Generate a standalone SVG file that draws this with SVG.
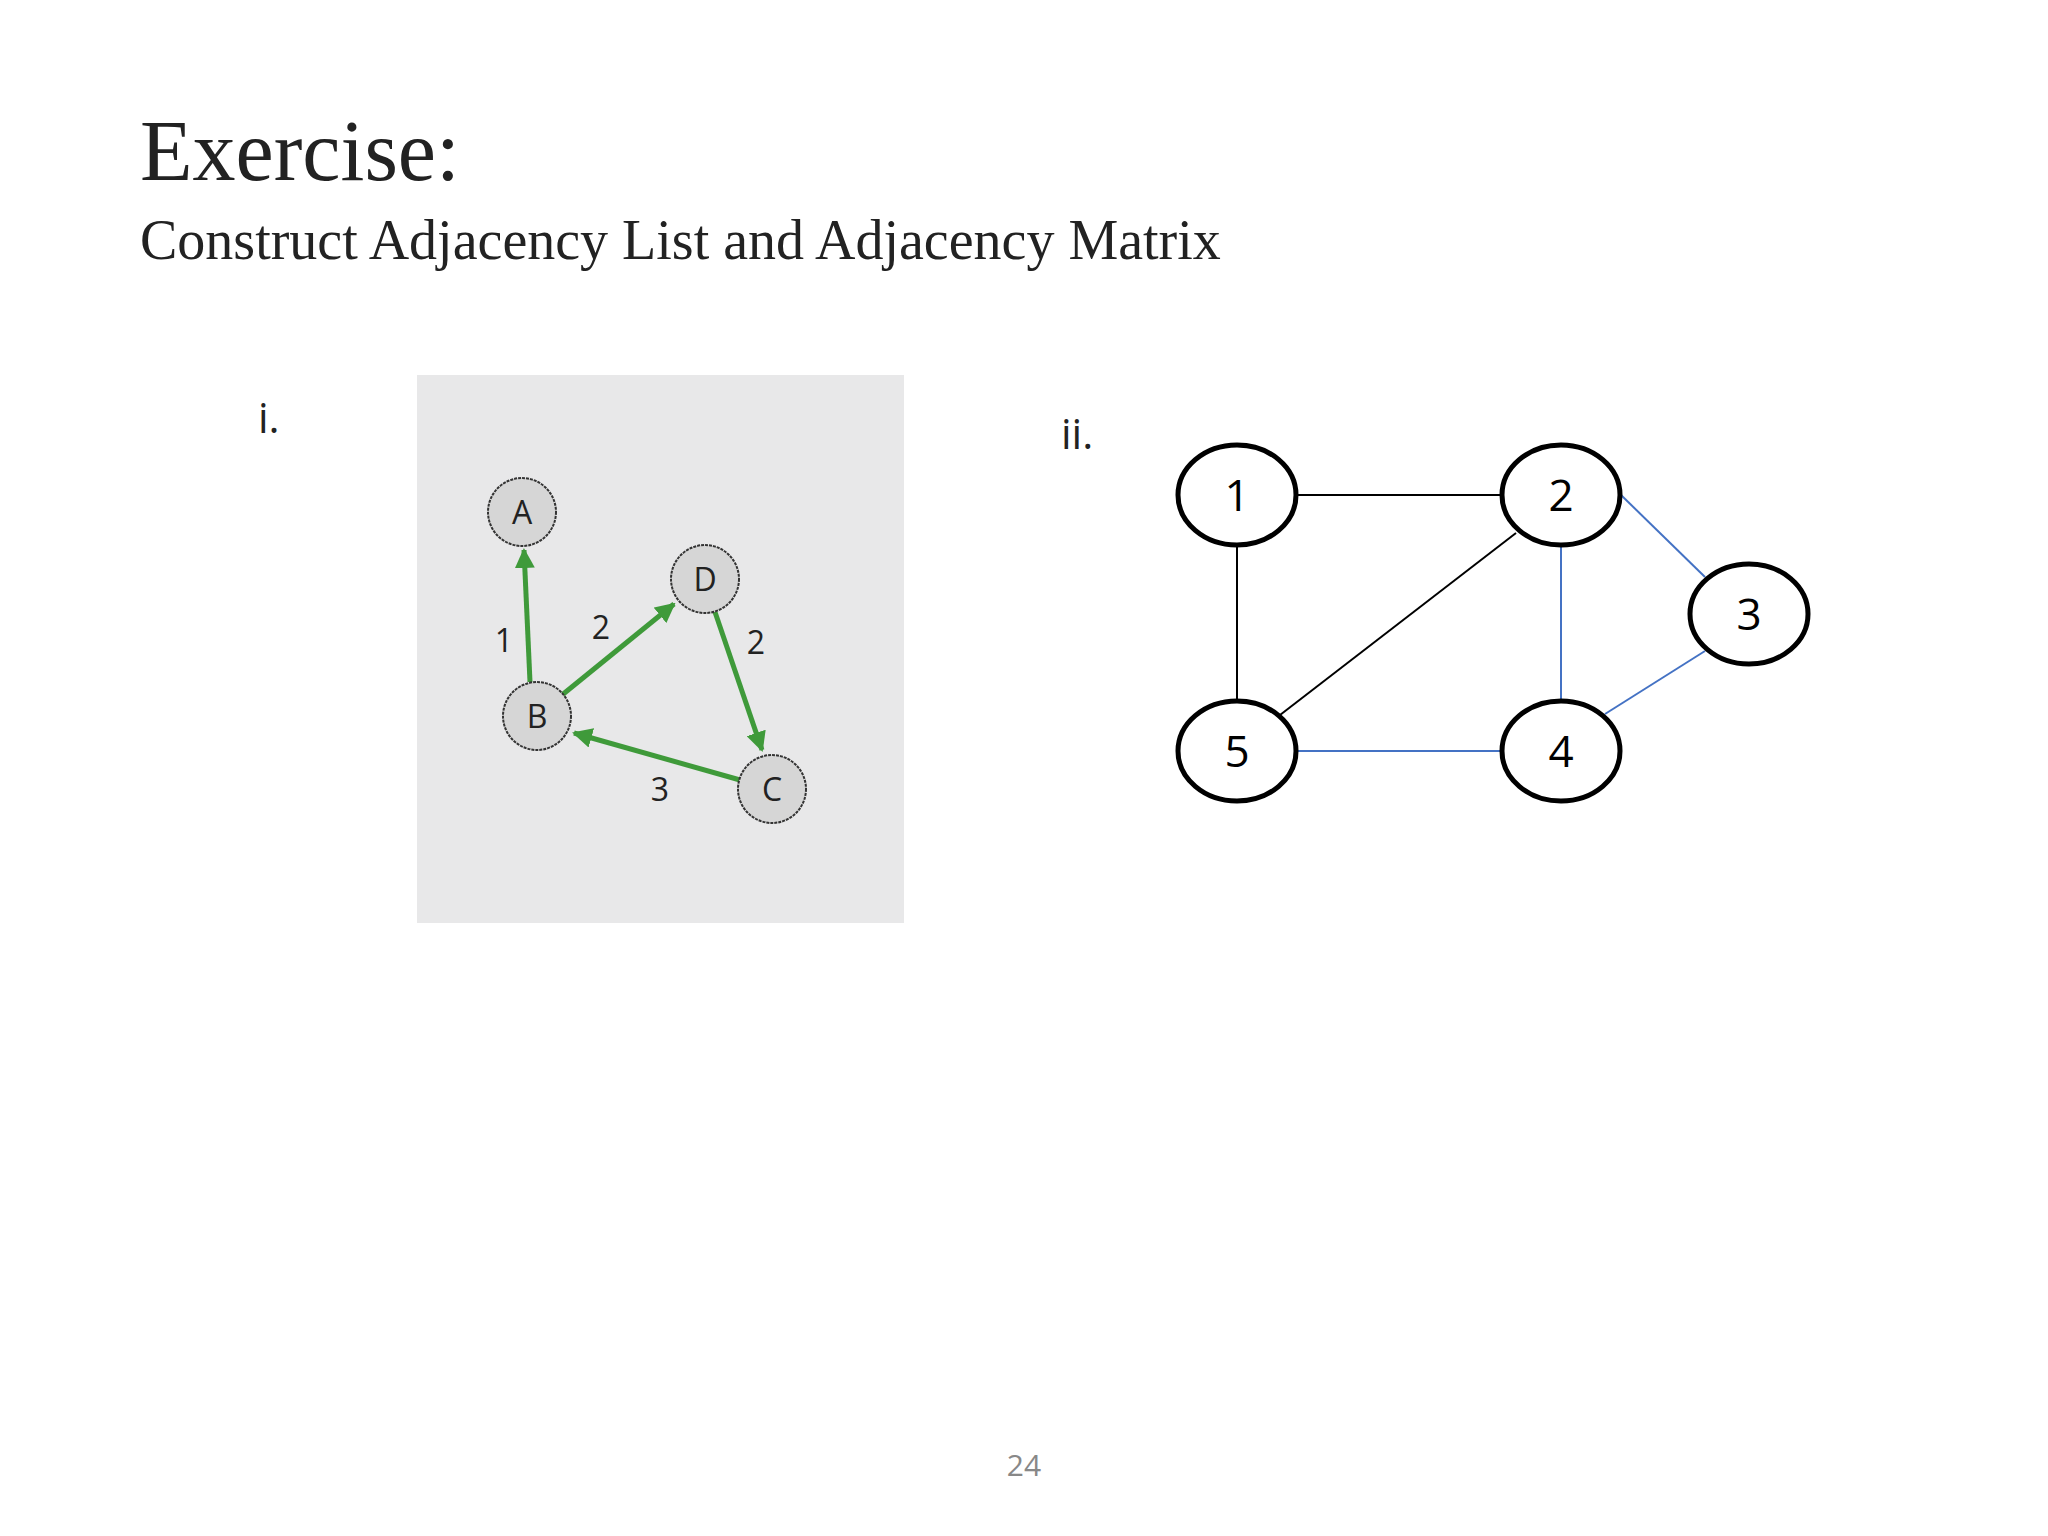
<svg xmlns="http://www.w3.org/2000/svg" width="2048" height="1536" viewBox="0 0 2048 1536">
<defs>
<marker id="ga" viewBox="0 0 10 10" refX="9" refY="5" markerWidth="4" markerHeight="4" orient="auto" markerUnits="strokeWidth"><path d="M0,0 L10,5 L0,10 z" fill="#3f9a3a"/></marker>
<style>
.t{font-family:"Liberation Serif",serif;fill:#222}
.s{font-family:"Open Sans","Noto Sans",sans-serif}
.gn{fill:#d6d6d6;stroke:#333;stroke-width:2;stroke-dasharray:3 1}
.gl{font-family:"Open Sans",sans-serif;font-size:32px;fill:#222;text-anchor:middle}
.ge{stroke:#3f9a3a;stroke-width:5;fill:none;marker-end:url(#ga)}
.n{fill:#fff;stroke:#000;stroke-width:5}
.nl{font-family:"Open Sans",sans-serif;font-size:44px;fill:#000;text-anchor:middle}
</style>
</defs>
<rect width="2048" height="1536" fill="#fff"/>
<text class="t" x="140" y="180" font-size="86">Exercise:</text>
<text class="t" x="140" y="259" font-size="56">Construct Adjacency List and Adjacency Matrix</text>
<text class="s" x="258" y="433" font-size="42" fill="#222">i.</text>
<text class="s" x="1061" y="449" font-size="42" fill="#222">ii.</text>
<rect x="417" y="375" width="487" height="548" fill="#e8e8e9"/>
<g id="edges-i">
<line class="ge" x1="530" y1="682" x2="524" y2="550"/>
<line class="ge" x1="562" y1="695" x2="674" y2="604"/>
<line class="ge" x1="715" y1="612" x2="762" y2="750"/>
<line class="ge" x1="740" y1="780" x2="574" y2="733"/>
<text class="gl" x="504" y="652">1</text>
<text class="gl" x="601" y="639">2</text>
<text class="gl" x="756" y="654">2</text>
<text class="gl" x="660" y="801">3</text>
</g>
<g id="A"><circle class="gn" cx="522" cy="512" r="34"/><text class="gl" x="522" y="524">A</text></g>
<g id="D"><circle class="gn" cx="705" cy="579" r="34"/><text class="gl" x="705" y="591">D</text></g>
<g id="B"><circle class="gn" cx="537" cy="716" r="34"/><text class="gl" x="537" y="728">B</text></g>
<g id="C"><circle class="gn" cx="772" cy="789" r="34"/><text class="gl" x="772" y="801">C</text></g>
<g id="edges-ii" stroke-width="2">
<line x1="1297" y1="495" x2="1501" y2="495" stroke="#000"/>
<line x1="1237" y1="546" x2="1237" y2="700" stroke="#000"/>
<line x1="1516" y1="533" x2="1280" y2="715" stroke="#000"/>
<line x1="1561" y1="546" x2="1561" y2="700" stroke="#4472c4"/>
<line x1="1621" y1="495" x2="1705" y2="577" stroke="#4472c4"/>
<line x1="1705" y1="651" x2="1605" y2="714" stroke="#4472c4"/>
<line x1="1297" y1="751" x2="1501" y2="751" stroke="#4472c4"/>
</g>
<g id="n1"><ellipse class="n" cx="1237" cy="495" rx="59" ry="50"/><text class="nl" x="1237" y="511">1</text></g>
<g id="n2"><ellipse class="n" cx="1561" cy="495" rx="59" ry="50"/><text class="nl" x="1561" y="511">2</text></g>
<g id="n3"><ellipse class="n" cx="1749" cy="614" rx="59" ry="50"/><text class="nl" x="1749" y="630">3</text></g>
<g id="n5"><ellipse class="n" cx="1237" cy="751" rx="59" ry="50"/><text class="nl" x="1237" y="767">5</text></g>
<g id="n4"><ellipse class="n" cx="1561" cy="751" rx="59" ry="50"/><text class="nl" x="1561" y="767">4</text></g>
<text class="s" x="1024" y="1476" font-size="30" fill="#888" text-anchor="middle">24</text>
</svg>
